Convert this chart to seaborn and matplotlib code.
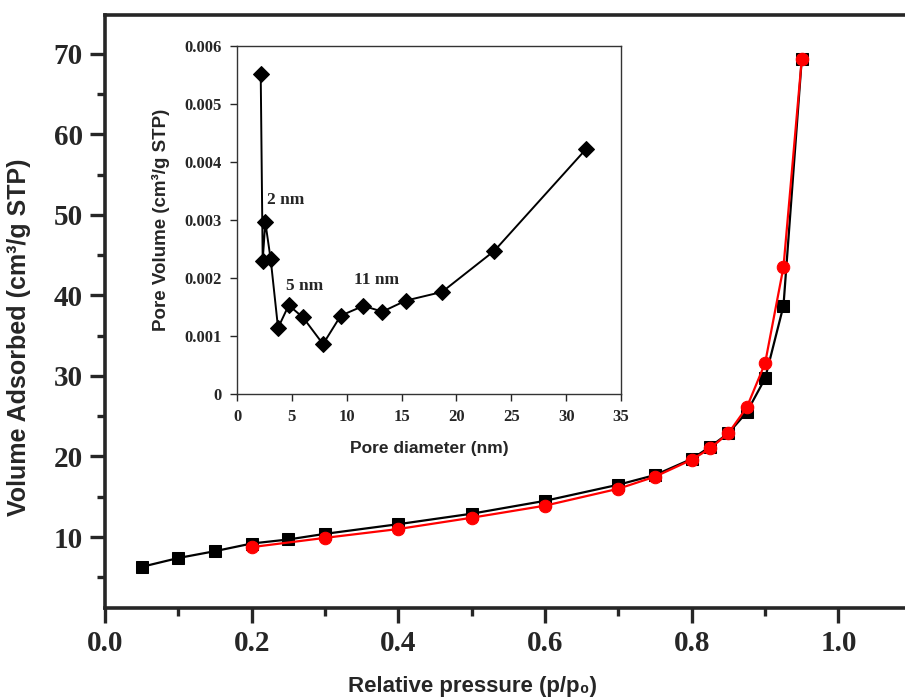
import matplotlib
matplotlib.use("Agg")
import matplotlib.pyplot as plt
from matplotlib.ticker import MultipleLocator
import seaborn as sns

# N2 isotherm, adsorption (black squares)
p_ads = [0.05, 0.10, 0.15, 0.20, 0.25, 0.30, 0.40, 0.50, 0.60, 0.70,
         0.75, 0.80, 0.825, 0.85, 0.875, 0.90, 0.925, 0.95]
v_ads = [6.3, 7.4, 8.25, 9.2, 9.7, 10.4, 11.6, 12.9, 14.5, 16.5,
         17.7, 19.7, 21.2, 22.9, 25.5, 29.7, 38.7, 69.4]

# desorption (red circles)
p_des = [0.20, 0.30, 0.40, 0.50, 0.60, 0.70, 0.75, 0.80, 0.825, 0.85,
         0.875, 0.90, 0.925, 0.95]
v_des = [8.75, 9.9, 11.0, 12.4, 13.9, 16.0, 17.5, 19.6, 21.0, 22.9,
         26.1, 31.6, 43.5, 69.4]

# pore size distribution (inset)
pore_d = [2.16, 2.34, 2.58, 3.07, 3.74, 4.71, 6.02, 7.84, 9.45, 11.52,
          13.25, 15.38, 18.69, 23.46, 31.8]
pore_v = [0.00551, 0.00230, 0.00296, 0.00232, 0.00114, 0.00153, 0.00132,
          0.00086, 0.00135, 0.00152, 0.00142, 0.00161, 0.00176, 0.00247,
          0.00422]

peak_labels = ["2 nm", "5 nm", "11 nm"]
peak_pos = [(2.7, 0.00335), (4.5, 0.00186), (10.7, 0.00196)]

sns.set_style("ticks")
plt.rcParams["font.family"] = ["Liberation Serif", "DejaVu Serif"]
sans = ["Liberation Sans", "DejaVu Sans"]

fig = plt.figure(figsize=(9.05, 6.98), dpi=100)
ax = fig.add_axes([0.116, 0.129, 0.884, 0.8495])

sns.lineplot(x=p_ads, y=v_ads, ax=ax, color="black", marker="s", markersize=8,
             markeredgecolor="black", linewidth=1.6, sort=False)
sns.lineplot(x=p_des, y=v_des, ax=ax, color="#ff0000", marker="o", markersize=9,
             markeredgecolor="#ff0000", linewidth=1.6, sort=False)

ax.set_xlim(0, 1.0907)
ax.set_xticks([0.0, 0.2, 0.4, 0.6, 0.8, 1.0])
ax.set_xticklabels(["0.0", "0.2", "0.4", "0.6", "0.8", "1.0"])
ax.xaxis.set_minor_locator(MultipleLocator(0.1))
ax.set_yticks([10, 20, 30, 40, 50, 60, 70])
ax.set_ylim(1.2, 74.8)
ax.yaxis.set_minor_locator(MultipleLocator(5))

for side in ["left", "bottom", "top"]:
    ax.spines[side].set_linewidth(2.6)
ax.spines["right"].set_visible(False)

ax.tick_params(axis="both", which="major", direction="out", length=11, width=2.4,
               labelsize=21, pad=5)
ax.tick_params(axis="both", which="minor", direction="out", length=6, width=2.4)
for lab in ax.get_xticklabels() + ax.get_yticklabels():
    lab.set_fontweight("bold")

ax.set_xlabel("Relative pressure (p/p\u2080)", fontsize=16, fontweight="bold",
              family=sans)
ax.set_ylabel("Volume Adsorbed (cm\u00b3/g STP)", fontsize=18, fontweight="bold",
              family=sans)
ax.xaxis.set_label_coords(0.459, -0.114)
ax.yaxis.set_label_coords(-0.092, 0.457)

# inset
ins = fig.add_axes([0.2619, 0.4355, 0.4243, 0.4986])
sns.lineplot(x=pore_d, y=pore_v, ax=ins, color="black", marker="D", markersize=8,
             markeredgecolor="black", linewidth=1.4, sort=False)
ins.set_xlim(0, 35)
ins.set_ylim(0, 0.006)
ins.set_xticks([0, 5, 10, 15, 20, 25, 30, 35])
ins.set_yticks([0, 0.001, 0.002, 0.003, 0.004, 0.005, 0.006])
ins.set_yticklabels(["0", "0.001", "0.002", "0.003", "0.004", "0.005", "0.006"])
for s in ins.spines.values():
    s.set_linewidth(1.0)
    s.set_color("#333333")
ins.tick_params(axis="both", direction="out", length=5, width=1.0, labelsize=12, pad=6)
for lab in ins.get_xticklabels() + ins.get_yticklabels():
    lab.set_fontweight("bold")
ins.set_xlabel("Pore diameter (nm)", fontsize=12.5, fontweight="bold",
               family=sans, labelpad=11)
ins.set_ylabel("Pore Volume (cm\u00b3/g STP)", fontsize=13.5, fontweight="bold",
               family=sans, labelpad=10)

for txt, (xx, yy) in zip(peak_labels, peak_pos):
    ins.text(xx, yy, txt, fontsize=12.5, fontweight="bold", ha="left", va="center")

fig.savefig("out.png", dpi=100)
